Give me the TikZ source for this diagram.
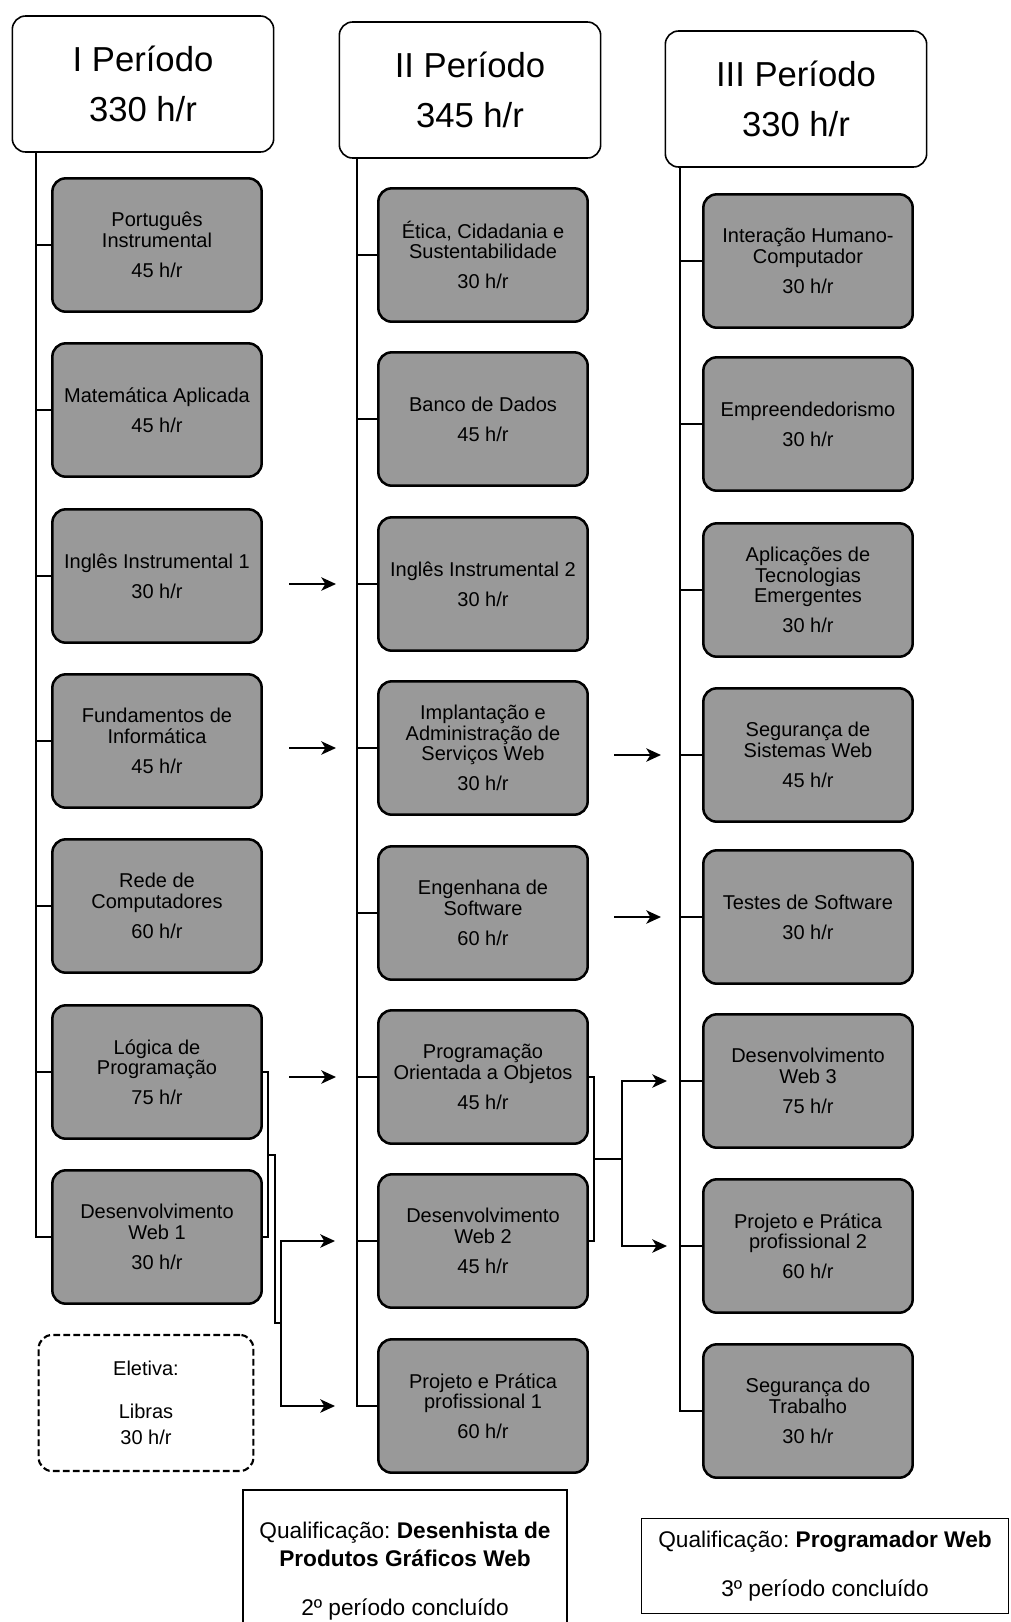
\documentclass[tikz,border=0pt]{standalone}
\usepackage{fontspec}
\setmainfont{Liberation Sans}
\frenchspacing
\usetikzlibrary{arrows.meta}
\newcommand{\pGradeHours}[1]{\\[7pt]#1 h/r}
\tikzset{
pGradeHead/.style={draw, line width=1.2pt, rounded corners=10pt, fill=white, minimum width=196pt, minimum height=102pt, align=center, font=\fontsize{26}{38}\selectfont},
pGradeSubj/.style={draw, line width=1.9pt, rounded corners=10pt, fill=black!40, minimum width=157pt, minimum height=100pt, align=center, inner sep=2pt, font=\fontsize{15}{15.4}\selectfont},
pGradeElective/.style={pGradeSubj, fill=white, line width=1.6pt, dash pattern=on 5pt off 2.5pt, minimum width=161pt, minimum height=102pt, font=\fontsize{15}{19.5}\selectfont},
pGradeLink/.style={line width=1.5pt},
pGradeArrow/.style={line width=1.5pt, -{Stealth[length=11pt,width=10pt,inset=3pt]}},
pGradeQual/.style={anchor=base, inner sep=0pt, font=\fontsize{17}{21}\selectfont},
pGradeQualBox/.style={draw, line width=0.8pt, minimum width=275pt, minimum height=71pt, align=center, font=\fontsize{17}{21}\selectfont}
}
\begin{document}
\begin{tikzpicture}[x=0.75pt,y=-0.75pt]
\useasboundingbox (0,0) rectangle (1011,1622);
\node[pGradeHead] (h1) at (143,84) {I Período\\330 h/r};
\node[pGradeHead] (h2) at (470,90) {II Período\\345 h/r};
\node[pGradeHead] (h3) at (796,99) {III Período\\330 h/r};
\node[pGradeSubj] (b11) at (157,245) {Português\\Instrumental\pGradeHours{45}};
\node[pGradeSubj] (b12) at (157,410) {Matemática Aplicada\pGradeHours{45}};
\node[pGradeSubj] (b13) at (157,576) {Inglês Instrumental 1\pGradeHours{30}};
\node[pGradeSubj] (b14) at (157,741) {Fundamentos de\\Informática\pGradeHours{45}};
\node[pGradeSubj] (b15) at (157,906) {Rede de\\Computadores\pGradeHours{60}};
\node[pGradeSubj] (b16) at (157,1072) {Lógica de\\Programação\pGradeHours{75}};
\node[pGradeSubj] (b17) at (157,1237) {Desenvolvimento\\Web 1\pGradeHours{30}};
\node[pGradeElective] (b18) at (146,1403) {Eletiva:\\[13pt]Libras\\30 h/r};
\node[pGradeSubj] (b21) at (483,255) {Ética, Cidadania e\\Sustentabilidade\pGradeHours{30}};
\node[pGradeSubj] (b22) at (483,419) {Banco de Dados\pGradeHours{45}};
\node[pGradeSubj] (b23) at (483,584) {Inglês Instrumental 2\pGradeHours{30}};
\node[pGradeSubj] (b24) at (483,748) {Implantação e\\Administração de\\Serviços Web\pGradeHours{30}};
\node[pGradeSubj] (b25) at (483,913) {Engenhana de\\Software\pGradeHours{60}};
\node[pGradeSubj] (b26) at (483,1077) {Programação\\Orientada a Objetos\pGradeHours{45}};
\node[pGradeSubj] (b27) at (483,1241) {Desenvolvimento\\Web 2\pGradeHours{45}};
\node[pGradeSubj] (b28) at (483,1406) {Projeto e Prática\\profissional 1\pGradeHours{60}};
\node[pGradeSubj] (b31) at (808,261) {Interação Humano-\\Computador\pGradeHours{30}};
\node[pGradeSubj] (b32) at (808,424) {Empreendedorismo\pGradeHours{30}};
\node[pGradeSubj] (b33) at (808,590) {Aplicações de\\Tecnologias\\Emergentes\pGradeHours{30}};
\node[pGradeSubj] (b34) at (808,755) {Segurança de\\Sistemas Web\pGradeHours{45}};
\node[pGradeSubj] (b35) at (808,917) {Testes de Software\pGradeHours{30}};
\node[pGradeSubj] (b36) at (808,1081) {Desenvolvimento\\Web 3\pGradeHours{75}};
\node[pGradeSubj] (b37) at (808,1246) {Projeto e Prática\\profissional 2\pGradeHours{60}};
\node[pGradeSubj] (b38) at (808,1411) {Segurança do\\Trabalho\pGradeHours{30}};
\draw[pGradeLink] (h1.south west) ++(24,0) coordinate (t1) |- (b17);
\draw[pGradeLink] (h2.south west) ++(18,0) coordinate (t2) |- (b28);
\draw[pGradeLink] (h3.south west) ++(15,0) coordinate (t3) |- (b38);
\foreach \n in {b11,b12,b13,b14,b15,b16} \draw[pGradeLink] (t1 |- \n) -- (\n);
\foreach \n in {b21,b22,b23,b24,b25,b26,b27} \draw[pGradeLink] (t2 |- \n) -- (\n);
\foreach \n in {b31,b32,b33,b34,b35,b36,b37} \draw[pGradeLink] (t3 |- \n) -- (\n);
\coordinate (g1s) at (289,584);
\coordinate (g1e) at (336,584);
\coordinate (g2s) at (289,748);
\coordinate (g2e) at (336,748);
\coordinate (g3s) at (289,1077);
\coordinate (g3e) at (336,1077);
\coordinate (g4s) at (614,755);
\coordinate (g4e) at (661,755);
\coordinate (g5s) at (614,917);
\coordinate (g5e) at (661,917);
\draw[pGradeArrow] (g1s) -- (g1e);
\draw[pGradeArrow] (g2s) -- (g2e);
\draw[pGradeArrow] (g3s) -- (g3e);
\draw[pGradeArrow] (g4s) -- (g4e);
\draw[pGradeArrow] (g5s) -- (g5e);
\coordinate (k1) at (268,1155);
\coordinate (k2) at (281,1323);
\coordinate (e1) at (335,1241);
\coordinate (e2) at (335,1406);
\draw[pGradeLink] (b16.east) -| (k1) |- (b17.east);
\draw[pGradeLink] (k1) -- ++(7,0) |- (k2);
\draw[pGradeArrow] (k2) |- (e1);
\draw[pGradeArrow] (k2) |- (e2);
\coordinate (k3) at (594,1159);
\coordinate (k4) at (622,1159);
\coordinate (e3) at (667,1081);
\coordinate (e4) at (667,1246);
\draw[pGradeLink] (b26.east) -| (k3) |- (b27.east);
\draw[pGradeLink] (k3) -- (k4);
\draw[pGradeArrow] (k4) |- (e3);
\draw[pGradeArrow] (k4) |- (e4);
\draw[line width=0.8pt] (243,1622) |- (567,1490) -- (567,1622);
\node[pGradeQual] (q1a) at (405,1538) {Qualificação: \textbf{Desenhista de}};
\node[pGradeQual] (q1b) at (405,1566) {\textbf{Produtos Gráficos Web}};
\node[pGradeQual] (q1c) at (405,1615) {2º período concluído};
\node[pGradeQualBox] (q2) at (825,1566) {Qualificação: \textbf{Programador Web}\\[16pt]3º período concluído};
\end{tikzpicture}
\end{document}
